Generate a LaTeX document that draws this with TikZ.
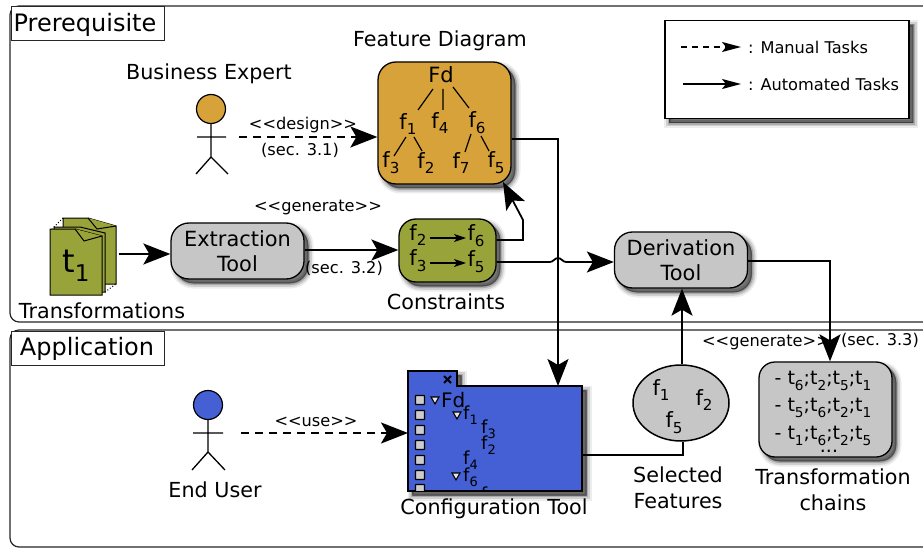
\documentclass[tikz,border=0pt]{standalone}
\usepackage{fontspec}
\setmainfont{DejaVu Sans}
\usetikzlibrary{arrows.meta,shadows,calc,shapes.geometric}
\definecolor{fdc}{HTML}{D8A23A}
\definecolor{olive2}{HTML}{98A43A}
\definecolor{blue2}{HTML}{4460D4}
\definecolor{docc}{HTML}{98A43A}
\newcommand\sbs[1]{\raisebox{-0.28em}{\scalebox{0.72}{#1}}}
\tikzset{
  x=1pt,y=-1pt,
  softshadow/.style={
    general shadow={shadow xshift=4.5pt,shadow yshift=-4.5pt,fill=black,draw=black,opacity=.07,line width=10pt},
    general shadow={shadow xshift=4.5pt,shadow yshift=-4.5pt,fill=black,draw=black,opacity=.12,line width=6.5pt},
    general shadow={shadow xshift=4.5pt,shadow yshift=-4.5pt,fill=black,draw=black,opacity=.18,line width=3pt},
    general shadow={shadow xshift=4pt,shadow yshift=-4pt,fill=black,draw=black,opacity=.25,line width=.5pt}},
  panel/.style={draw=black!85,line width=1.2pt,fill=white,rounded corners=9pt},
  tabbox/.style={draw=black!85,line width=1pt,fill=white,inner sep=0pt},
  big/.style={font=\fontsize{24}{28}\selectfont},
  lab/.style={font=\fontsize{20.7}{26}\selectfont,align=center,inner sep=0pt},
  small/.style={font=\fontsize{16.2}{18}\selectfont,inner sep=0pt},
  tool/.style={draw=black,line width=1.3pt,fill=gray!45,rounded corners=18pt,softshadow,minimum width=133pt,minimum height=56pt,inner sep=0pt,align=center,font=\fontsize{20.9}{26}\selectfont},
  feat/.style={font=\fontsize{21}{22}\selectfont,inner sep=0pt},
  ft/.style={font=\fontsize{18}{20}\selectfont,inner sep=0pt},
  auto tip/.style={-{Stealth[length=27pt,width=21pt,inset=6pt]}},
  conn/.style={draw=black,line width=1.8pt,auto tip},
  plain/.style={draw=black,line width=1.8pt},
  manual/.style={conn,dash pattern=on 8pt off 6pt},
  tree/.style={draw=black,line width=1.2pt},
  actor/.style={draw=black,line width=1.3pt},
  check/.style={draw=black,line width=1.2pt,fill=gray!40,minimum size=9pt,inner sep=0pt,rounded corners=.5pt},
  tri/.style={draw=black,line width=1.1pt,fill=gray!20},
}
\begin{document}
\begin{tikzpicture}
\useasboundingbox (0,0) rectangle (923,548);
\fill[white] (0,0) rectangle (923,548);
% panels
\begin{scope}
\clip (0,0) rectangle (923,548);
\draw[panel] (10,6) -- (940,6) -- (940,322) -- (10,322) -- cycle;
\draw[panel] (10,330) -- (940,330) -- (940,547) -- (10,547) -- cycle;
\end{scope}
\node[tabbox,minimum width=153pt,minimum height=34pt,anchor=north west] (pre) at (10.5,6.5) {};
\node[tabbox,minimum width=153pt,minimum height=34pt,anchor=north west] (app) at (10.5,330.5) {};
\node[big,inner sep=0pt] (pret) at (85,24.5) {Prerequisite};
\node[big,inner sep=0pt] (appt) at (87,348.5) {Application};
% legend
\node[draw=black,line width=1.5pt,fill=white,minimum width=244pt,minimum height=98pt,anchor=north west,softshadow] (legend) at (664,20) {};
\coordinate (lm1) at (681,47); \coordinate (lm2) at (741,47);
\coordinate (la1) at (683,84); \coordinate (la2) at (741,84);
\draw[draw=black,line width=1.6pt,dash pattern=on 6pt off 5pt,-{Stealth[length=19pt,width=10pt,inset=4pt]}] (lm1) -- (lm2);
\draw[draw=black,line width=1.6pt,-{Stealth[length=19pt,width=10pt,inset=4pt]}] (la1) -- (la2);
\node[small,anchor=west] (lt1) at (748,47) {: Manual Tasks};
\node[small,anchor=west] (lt2) at (748,84) {: Automated Tasks};
% business expert
\node[lab] (be) at (209,74) {Business Expert};
\node[circle,draw=black,line width=1.2pt,fill=fdc,minimum size=29pt,inner sep=0pt] (head1) at (211,109) {};
\coordinate (n1) at (211,157);
\draw[actor] (head1) -- (n1) (197,137) -- (226,137) (196,174) -- (n1) -- (228,174);
\coordinate (a1) at (239,137);
% feature diagram box
\node[lab] (fdl) at (440,41) {Feature Diagram};
\node[draw=black,line width=1.3pt,fill=fdc,rounded corners=18pt,softshadow,minimum width=133pt,minimum height=122pt,inner sep=0pt] (fd) at (444.5,123) {};
\node[feat] (Fd) at (441,75) {Fd};
\node[feat] (f1) at (408,124) {f\sbs{1}};
\node[feat] (f4) at (440,123) {f\sbs{4}};
\node[feat] (f6) at (477,123) {f\sbs{6}};
\node[feat] (f3) at (391,163) {f\sbs{3}};
\node[feat] (f2) at (426,163) {f\sbs{2}};
\node[feat] (f7) at (461,163) {f\sbs{7}};
\node[feat] (f5) at (496,163) {f\sbs{5}};
\draw[tree] (433,89) -- (418,110) (443,89) -- (443,110) (453,87) -- (469,108)
  (406,137) -- (394,156) (414,137) -- (422,151) (471,134) -- (465,152) (481,136) -- (489,151);
% documents
\draw[black,line width=1pt,dotted] (63,218) -- (52,229) (105,292) -- (116,284);
\draw[black,line width=1pt,fill=docc] (63,218) -- (88,218) -- (116,226) -- (116,284) -- (63,284) -- cycle;
\draw[black,line width=1pt,fill=docc] (88,218) -- (97,229) -- (116,226);
\draw[black,line width=1pt,fill=docc] (54,227) -- (80,227) -- (105,233) -- (105,292) -- (54,292) -- cycle;
\draw[black,line width=1pt,fill=docc] (50,229) -- (75,229) -- (102,236) -- (102,295) -- (50,295) -- cycle;
\draw[black,line width=1pt,fill=docc] (75,229) -- (84,241) -- (102,236);
\node[inner sep=0pt,font=\fontsize{32}{34}\selectfont] (t1) at (76,266) {t\sbs{1}};
\coordinate (docR) at (119,254);
\node[lab] (trl) at (102,311) {Transformations};
% tools
\node[tool] (ext) at (237.5,251) {Extraction\\[-1pt]Tool};
\node[draw=black,line width=1.3pt,fill=olive2,rounded corners=17pt,softshadow,minimum width=97pt,minimum height=63pt,inner sep=0pt] (con) at (447.5,250.5) {};
\node[feat] (c2) at (418,235) {f\sbs{2}};
\node[feat] (c6) at (476,236) {f\sbs{6}};
\node[feat] (c3) at (418,261) {f\sbs{3}};
\node[feat] (c5) at (476,262) {f\sbs{5}};
\draw[draw=black,line width=1.2pt,-{Stealth[length=12pt,width=8pt,inset=3pt]}] (430,238) -- (466,238);
\draw[draw=black,line width=1.2pt,-{Stealth[length=12pt,width=8pt,inset=3pt]}] (430,263) -- (466,263);
\node[lab] (conl) at (446,302) {Constraints};
\node[tool] (der) at (681,260) {Derivation\\[-1pt]Tool};
% config tool
\draw[draw=black,line width=1.3pt,fill=blue2,softshadow] (408,371) -- (457,371) -- (457,386) -- (582,386) -- (582,491) -- (408,491) -- cycle;
\coordinate (cfgL) at (408,433);
\coordinate (cfgT) at (558,386);
\coordinate (cfgR) at (582,455);
\draw[black,line width=1.8pt] (444,376) -- (451,383) (451,376) -- (444,383);
\foreach \yy/\nn in {400/a,415/b,430/c,445/d,460/e,475/f}{\node[check] (ck\nn) at (420,\yy) {};}
\begin{scope}
\clip (408,371) rectangle (582,490.5);
\node[check] (ckg) at (420,489) {};
\node[ft] (sf) at (484,494) {f};
\end{scope}
\foreach \xx/\yy/\nn in {435/400/a,457/415/b,456/476/c}{\path[tri] (\xx-4,\yy-3) -- (\xx+4,\yy-3) -- (\xx,\yy+4) -- cycle;}
\node[ft,anchor=west,font=\fontsize{20}{20}\selectfont] (tfd) at (441,400) {Fd};
\node[ft,anchor=west] (t1b) at (463,415) {f\sbs{1}};
\node[ft,anchor=west] (t3b) at (481,429) {f\sbs{3}};
\node[ft,anchor=west] (t2b) at (481,445) {f\sbs{2}};
\node[ft,anchor=west] (t4b) at (463,460) {f\sbs{4}};
\node[ft,anchor=west] (t6b) at (463,477) {f\sbs{6}};
\node[lab] (cfgl) at (494,509) {Configuration Tool};
% end user
\node[circle,draw=black,line width=1.2pt,fill=blue2,minimum size=29pt,inner sep=0pt] (head2) at (208,405) {};
\coordinate (n2) at (208,452);
\draw[actor] (head2) -- (n2) (193,433) -- (223,433) (192,470) -- (n2) -- (225,470);
\coordinate (a2) at (241,433);
\node[lab] (eu) at (215,490) {End User};
% selected
\node[ellipse,draw=black,line width=1.5pt,fill=gray!45,minimum width=96pt,minimum height=76pt,inner sep=0pt] (sel) at (681,403) {};
\node[feat] (s1) at (661,390) {f\sbs{1}};
\node[feat] (s2) at (704,400) {f\sbs{2}};
\node[feat] (s5) at (674,423) {f\sbs{5}};
\node[lab] (sell) at (678,488) {Selected\\Features};
% chains
\node[draw=black,line width=1.3pt,fill=gray!45,rounded corners=16pt,softshadow,minimum width=133pt,minimum height=95pt,inner sep=0pt] (ch) at (825.5,409.5) {};
\node[feat,font=\fontsize{19}{20}\selectfont] (ch1) at (823,381) {- t\sbs{6};t\sbs{2};t\sbs{5};t\sbs{1}};
\node[feat,font=\fontsize{19}{20}\selectfont] (ch2) at (823,408) {- t\sbs{5};t\sbs{6};t\sbs{2};t\sbs{1}};
\node[feat,font=\fontsize{19}{20}\selectfont] (ch3) at (823,436) {- t\sbs{1};t\sbs{6};t\sbs{2};t\sbs{5}};
\node[feat,font=\fontsize{19}{20}\selectfont] (ch4) at (829,451) {...};
\node[lab] (chl) at (833,490) {Transformation\\chains};
% label under the arrow
\node[small] (l6) at (766,342) {<{}<generate>{}>};
% connectors
\draw[manual] (a1) -- (fd.west |- a1);
\draw[conn] (docR) -- (ext.west |- docR);
\draw[conn] (ext.east |- 0,250) -- (con.west |- 0,250);
\draw[plain] (fd.east |- 0,139) -- (558,139) -- (558,240);
\draw[conn] (558,240) -- (cfgT);
\draw[conn] (con.east |- 0,240) -- (523,240) -- (523,220) -- (503,182);
\coordinate (b1) at (550,262); \coordinate (b2) at (566,262);
\draw[plain] (con.east |- 0,262) -- (b1) .. controls (553,262) and (555,258) .. (558,258) .. controls (561,258) and (563,262) .. (b2);
\draw[conn] (b2) -- (der.west |- b2);
\draw[conn] (sel.north -| 682,0) -- (der.south -| 682,0);
\draw[plain] (cfgR) -- (683,455) -- (sel.south -| 683,0);
\draw[conn] (der.east |- 0,261) -- (830,261) -- (ch.north -| 830,0);
\draw[manual] (a2) -- (cfgL);
% labels
\node[small] (l1) at (303,125) {<{}<design>{}>};
\node[small] (l2) at (300,150) {(sec. 3.1)};
\node[small] (l3) at (318,207) {<{}<generate>{}>};
\node[small] (l4) at (344,268) {(sec. 3.2)};
\node[small] (l5) at (316,422) {<{}<use>{}>};
\node[small] (l7) at (880,340) {(sec. 3.3)};
\end{tikzpicture}
\end{document}
